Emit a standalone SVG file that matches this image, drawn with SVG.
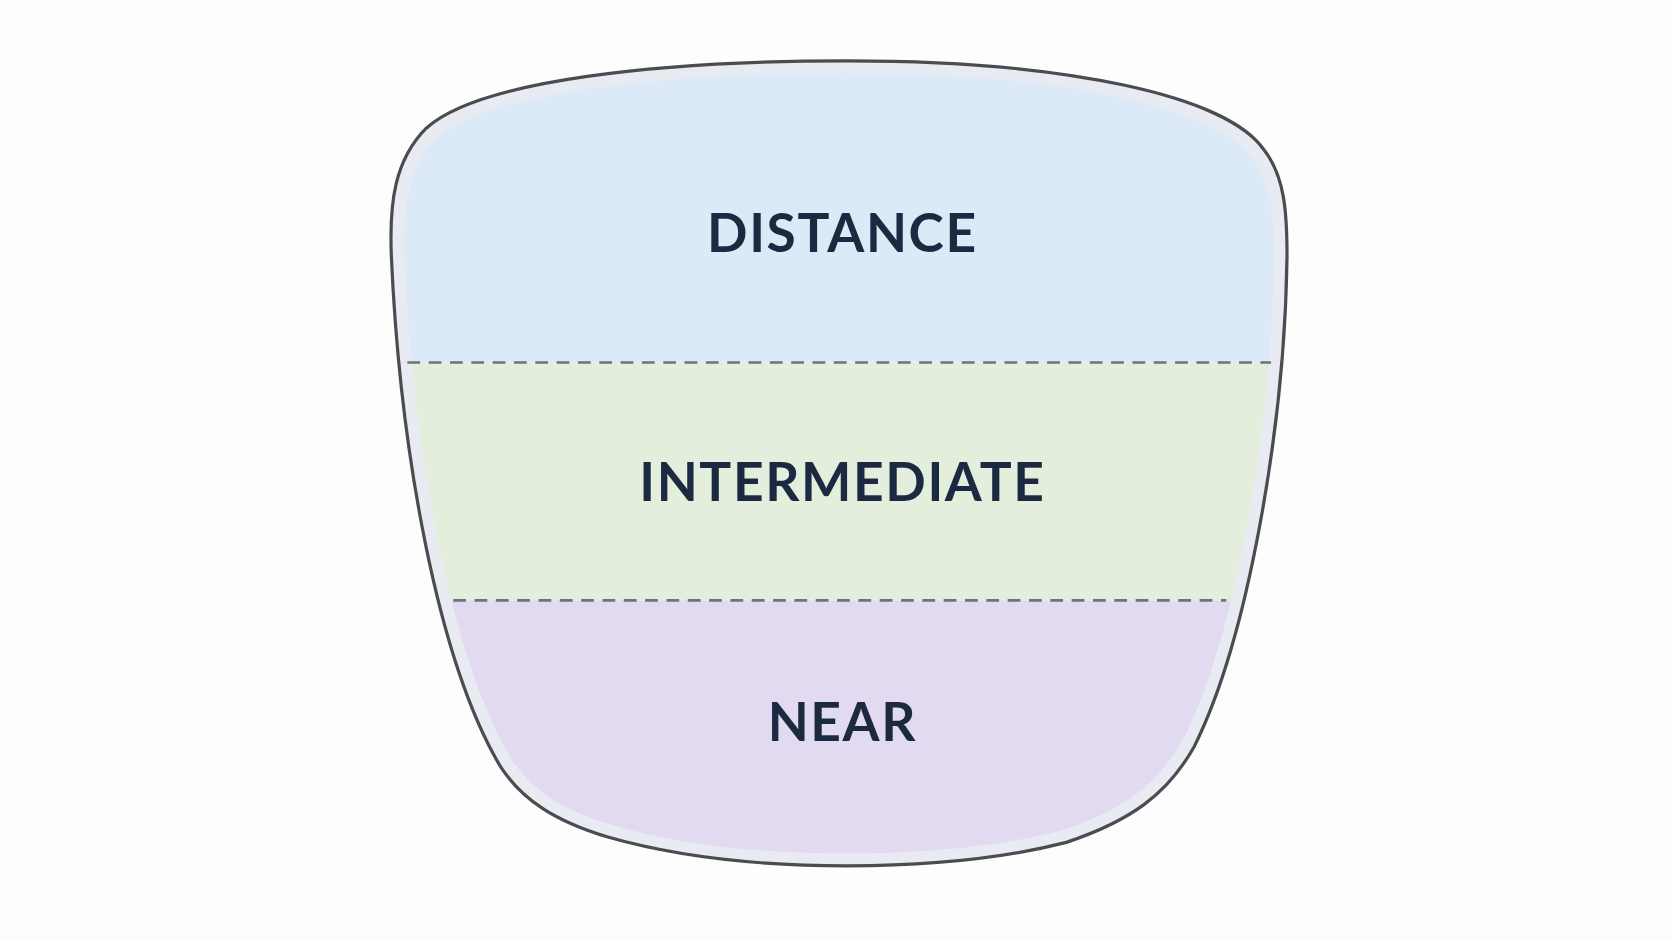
<svg xmlns="http://www.w3.org/2000/svg" width="1672" height="941" viewBox="0 0 1672 941">
<style>
.lbl{font-family:Lato,"Open Sans","DejaVu Sans",sans-serif;font-weight:700;font-size:50px;fill:#1d2940;text-anchor:middle;letter-spacing:1.5px}
.dash{stroke:#6f7277;stroke-width:2.5;stroke-dasharray:12 8;fill:none}
</style>
<defs>
<clipPath id="lens"><path id="lp" d="M 795 57 C 1000 57 1150 90 1185 140 C 1205 165 1207 200 1207 240 C 1205 400 1170 600 1120 700 C 1095 745 1060 770 1000 790 C 930 808 860 812 795 812 C 720 812 640 805 570 785 C 520 770 490 750 470 720 C 410 620 375 420 367 240 C 365 190 370 150 400 120 C 450 75 620 57 795 57 Z"/></clipPath>
</defs>
<rect width="1672" height="941" fill="#fdfdfd"/>
<g transform="scale(1.0663)">
<g id="lens-zones" clip-path="url(#lens)">
<rect id="zone-distance" x="300" y="40" width="1000" height="300" fill="#dce9f7"/>
<rect id="zone-intermediate" x="300" y="340" width="1000" height="223" fill="#e3eedd"/>
<rect id="zone-near" x="300" y="563" width="1000" height="260" fill="#e2daf1"/>
</g>
<path d="M 795 57 C 1000 57 1150 90 1185 140 C 1205 165 1207 200 1207 240 C 1205 400 1170 600 1120 700 C 1095 745 1060 770 1000 790 C 930 808 860 812 795 812 C 720 812 640 805 570 785 C 520 770 490 750 470 720 C 410 620 375 420 367 240 C 365 190 370 150 400 120 C 450 75 620 57 795 57 Z" fill="none" stroke="#e8ecf2" stroke-width="12" transform="translate(795 435) scale(0.985) translate(-795 -435)"/>
<path d="M 795 57 C 1000 57 1150 90 1185 140 C 1205 165 1207 200 1207 240 C 1205 400 1170 600 1120 700 C 1095 745 1060 770 1000 790 C 930 808 860 812 795 812 C 720 812 640 805 570 785 C 520 770 490 750 470 720 C 410 620 375 420 367 240 C 365 190 370 150 400 120 C 450 75 620 57 795 57 Z" fill="none" stroke="#4a4c50" stroke-width="3"/>
<g id="connectors">
<line class="dash" x1="382" y1="340" x2="1192" y2="340"/>
<line class="dash" x1="425" y1="563" x2="1150" y2="563"/>
</g>
<g id="distance"><text class="lbl" x="790" y="236">DISTANCE</text></g>
<g id="intermediate"><text class="lbl" x="790" y="470">INTERMEDIATE</text></g>
<g id="near"><text class="lbl" x="790" y="695">NEAR</text></g>
</g>
</svg>
